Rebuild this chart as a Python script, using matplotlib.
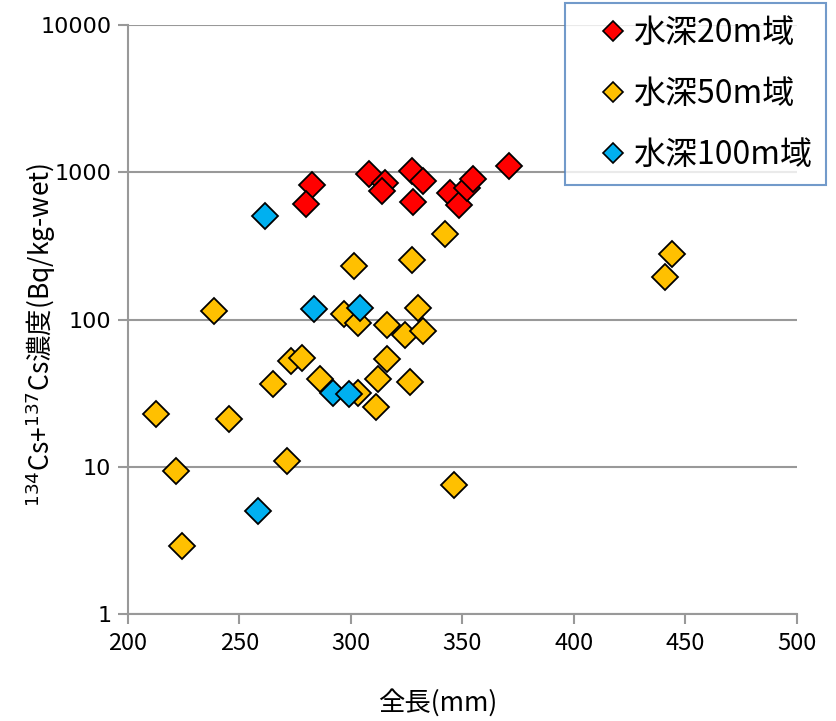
import matplotlib
matplotlib.use("Agg")
import matplotlib.pyplot as plt
from matplotlib.lines import Line2D

plt.rcParams['font.family'] = ['Noto Sans CJK JP', 'DejaVu Sans']

# 水深20m域
len_20 = [370.9, 308.0, 315.5, 314.2, 282.4, 280.1, 327.6, 332.4, 328.1,
          344.4, 348.6, 352.2, 354.8]
cs_20 = [1105, 975, 851, 748, 821, 607, 1027, 874, 626, 721, 601, 780, 898]

# 水深50m域
len_50 = [342.3, 327.4, 301.3, 238.4, 330.3, 297.1, 303.1, 316.1, 324.4,
          332.4, 444.2, 441.1, 326.5, 346.2, 273.0, 278.0, 316.0, 265.2,
          286.1, 312.0, 303.3, 311.2, 212.4, 245.3, 271.3, 221.4, 224.3]
cs_50 = [380, 254, 231, 114, 121, 110, 95.3, 91.5, 78.6,
         84.1, 279, 196, 37.7, 7.6, 52.3, 55.4, 53.8, 36.7,
         39.3, 39.5, 31.6, 25.4, 22.8, 21.2, 11.0, 9.36, 2.93]

# 水深100m域
len_100 = [261.3, 283.3, 304.0, 292.1, 299.2, 258.3]
cs_100 = [508, 119, 120, 31.9, 31.1, 5.03]

series = [
    ("水深20m域", len_20, cs_20, "#FF0000"),
    ("水深50m域", len_50, cs_50, "#FFC000"),
    ("水深100m域", len_100, cs_100, "#00B0F0"),
]

fig = plt.figure(figsize=(8.36, 7.21), dpi=100)
ax = fig.add_axes([0.153, 0.148, 0.8, 0.817])

# draw 50m first so that 20m / 100m sit on top like the original
for idx in [1, 0, 2]:
    name, xs, ys, col = series[idx]
    ax.plot(xs, ys, linestyle='none', marker='D', markersize=13.5,
            markerfacecolor=col, markeredgecolor='black', markeredgewidth=1.3,
            zorder=3)

ax.set_yscale('log')
ax.set_ylim(1, 10000)
ax.set_xlim(200, 500)
ax.set_xticks([200, 250, 300, 350, 400, 450, 500])
ax.set_yticks([1, 10, 100, 1000, 10000])
ax.set_yticklabels(['1', '10', '100', '1000', '10000'])
ax.minorticks_off()

ax.grid(axis='y', color='#999999', linewidth=1.5)
ax.set_axisbelow(True)
for s in ['top', 'right']:
    ax.spines[s].set_visible(False)
for s in ['left', 'bottom']:
    ax.spines[s].set_color('#999999')
    ax.spines[s].set_linewidth(1.5)
ax.tick_params(axis='both', color='#999999', width=1.5, length=7)
ax.tick_params(axis='x', labelsize=17, pad=6)
ax.tick_params(axis='y', labelsize=16, pad=5)
for lab in ax.get_yticklabels():
    lab.set_family('DejaVu Sans')

ax.set_xlabel('全長(mm)', fontsize=19)
ax.xaxis.set_label_coords((438 - 128) / 669, -0.126)
ax.set_ylabel(r'$^{134}$Cs+$^{137}$Cs濃度(Bq/kg-wet)', fontsize=19)
ax.yaxis.set_label_coords(-0.105, 0.475)

handles = [Line2D([], [], linestyle='none', marker='D', markersize=10,
                  markerfacecolor=c, markeredgecolor='black', markeredgewidth=1.2)
           for _, _, _, c in series]
leg = fig.legend(handles, [s[0] for s in series], loc='upper left',
                 bbox_to_anchor=(565 / 836, 1 - 3 / 721), fontsize=23,
                 frameon=True, fancybox=False, handlelength=2.1,
                 handletextpad=-0.42, labelspacing=0.9, borderpad=0.45,
                 borderaxespad=0)
leg.get_frame().set_edgecolor('#4F81BD')
leg.get_frame().set_linewidth(1.5)

fig.savefig('out.png', dpi=100)
